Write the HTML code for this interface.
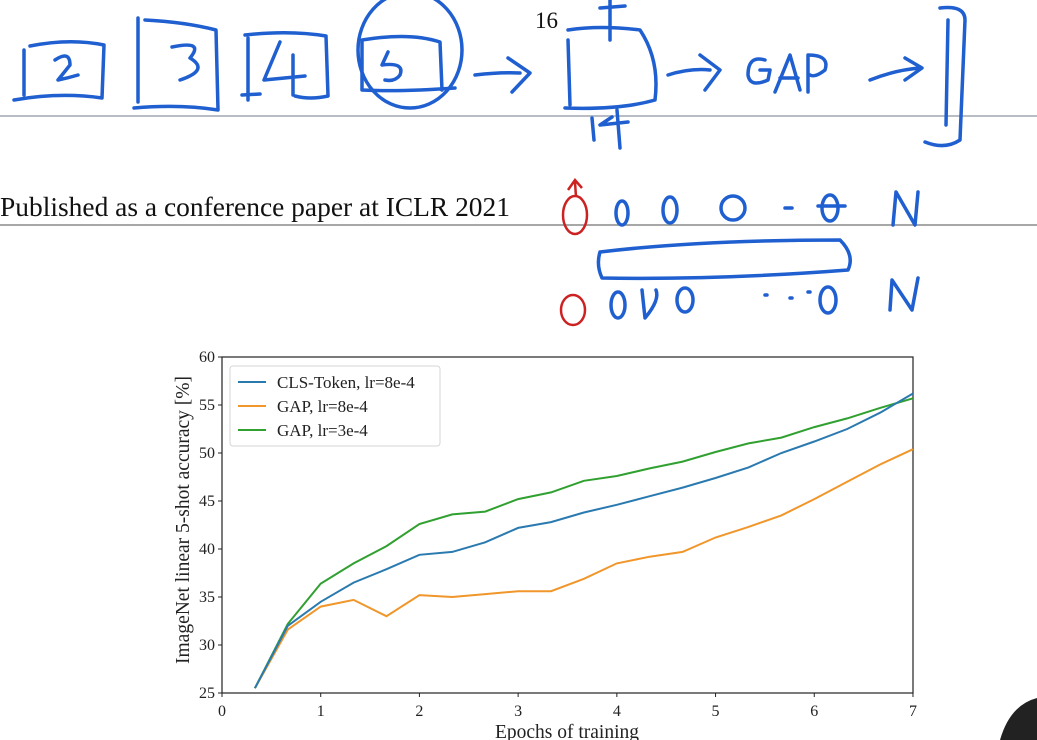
<!DOCTYPE html>
<html><head><meta charset="utf-8"><style>
html,body{margin:0;padding:0;background:#fff;}
body{width:1037px;height:740px;overflow:hidden;position:relative;font-family:"Liberation Serif",serif;}
svg{position:absolute;left:0;top:0;}
</style></head><body>
<svg width="1037" height="740" viewBox="0 0 1037 740" xmlns="http://www.w3.org/2000/svg">
<rect width="1037" height="740" fill="#fff"/>
<line x1="0" y1="116" x2="1037" y2="116" stroke="#b8bcc4" stroke-width="2"/>
<line x1="0" y1="225" x2="1037" y2="225" stroke="#8a8a8a" stroke-width="1.5"/>
<text x="0" y="216" font-size="27" textLength="510" lengthAdjust="spacingAndGlyphs" font-family="Liberation Serif,serif" fill="#111">Published as a conference paper at ICLR 2021</text>
<text x="535" y="28" font-size="23" font-family="Liberation Serif,serif" fill="#111">16</text>
<g fill="none" stroke="#1f5fd0" stroke-width="3.5" stroke-linecap="round" stroke-linejoin="round">
<path d="M24 50 L24 95 M14 100 Q60 92 102 98 L104 45 Q70 38 30 46"/>
<path d="M55 60 Q70 50 70 65 L58 80 Q68 78 78 75"/>
<path d="M138 18 L138 102 M134 108 Q180 104 218 110 L216 30 Q185 22 145 20"/>
<path d="M172 47 Q205 40 190 58 Q210 70 180 80"/>
<path d="M248 38 L248 100 M245 35 Q290 30 326 36 L328 96 Q310 100 295 96"/>
<path d="M280 42 L264 80 Q285 78 305 76 M293 55 L293 95 M242 95 L260 94"/>
<path d="M362 42 L362 90 Q400 92 455 88 M362 40 Q410 32 440 42 L442 90"/>
<path d="M388 52 L382 65 Q405 62 400 75 Q395 82 385 80"/>
<ellipse cx="410" cy="50" rx="52" ry="58"/>
<path d="M475 75 Q500 72 520 73 M508 58 L530 73 L512 92"/>
<path d="M568 30 Q600 25 640 30 Q660 60 655 100 Q620 110 565 108 M568 40 L570 105 M610 0 L610 40 M600 8 L625 6"/>
<path d="M592 118 L594 140 M612 117 L600 125 L628 122 M617 110 L620 148"/>
<path d="M668 75 Q690 68 710 70 M700 55 L720 70 L705 90"/>
<path d="M765 60 Q748 55 748 75 Q750 88 768 80 L770 70 L760 70 M775 92 L790 55 L800 90 M780 78 L798 78 M808 92 L808 55 Q830 55 825 70 Q815 78 810 75"/>
<path d="M870 80 Q895 70 920 68 M905 58 L922 68 L905 80"/>
<path d="M940 8 Q965 5 965 20 L960 140 Q945 150 925 142 M948 20 L946 125"/>
<ellipse cx="622" cy="213" rx="6" ry="12"/><ellipse cx="670" cy="210" rx="7" ry="13"/><ellipse cx="733" cy="208" rx="12" ry="12"/>
<path d="M785 208 L792 208"/><ellipse cx="830" cy="208" rx="8" ry="13"/><path d="M818 206 L845 206"/>
<path d="M893 225 L896 192 L915 225 L918 192"/>
<path d="M600 252 Q700 240 840 240 Q855 255 848 270 Q720 280 602 278 Q596 265 600 252"/>
<ellipse cx="618" cy="305" rx="7" ry="13"/><path d="M642 290 L645 318 Q660 300 656 290"/><ellipse cx="685" cy="300" rx="8" ry="12"/>
<ellipse cx="828" cy="300" rx="8" ry="13"/><path d="M765 295 L767 295 M790 298 L792 298 M808 292 L810 292"/>
<path d="M890 310 L892 280 L912 310 L918 278"/>
</g>
<g fill="none" stroke="#cc2222" stroke-width="2.5">
<ellipse cx="575" cy="215" rx="12" ry="19"/><path d="M576 197 L575 182 M568 190 L575 180 L582 188"/>
<ellipse cx="573" cy="310" rx="12" ry="15"/>
</g>
<path d="M1000 740 Q1010 705 1037 698 L1037 740 Z" fill="#222"/>
<rect x="222" y="357" width="691" height="336" fill="none" stroke="#222" stroke-width="1.2"/>
<g id="ticks" font-family="Liberation Serif,serif" font-size="16" fill="#222"></g>
<g id="lines" fill="none" stroke-width="2"></g>
<rect x="230" y="366" width="210" height="80" rx="3" fill="#fff" stroke="#d6d6d6"/>
<line x1="238" y1="382" x2="266" y2="382" stroke="#2a7ab0" stroke-width="2"/>
<line x1="238" y1="406" x2="266" y2="406" stroke="#f0962a" stroke-width="2"/>
<line x1="238" y1="430" x2="266" y2="430" stroke="#30a030" stroke-width="2"/>
<g font-family="Liberation Serif,serif" font-size="17" fill="#222">
<text x="277" y="388">CLS-Token, lr=8e-4</text>
<text x="277" y="412">GAP, lr=8e-4</text>
<text x="277" y="436">GAP, lr=3e-4</text>
</g>
<text x="567" y="738" text-anchor="middle" font-family="Liberation Serif,serif" font-size="19.5" fill="#222">Epochs of training</text>
<text transform="translate(189 520) rotate(-90)" text-anchor="middle" font-family="Liberation Serif,serif" font-size="19.5" fill="#222">ImageNet linear 5-shot accuracy [%]</text>
</svg>
<script>
var X=function(e){return 222+98.71*e},Y=function(v){return 693-9.6*(v-25)};
var t=document.getElementById('ticks'),s='';
for(var i=0;i<=7;i++){var x=X(i);s+='<line x1="'+x+'" y1="693" x2="'+x+'" y2="697" stroke="#222"/><text x="'+x+'" y="716" text-anchor="middle">'+i+'</text>';}
for(var v=25;v<=60;v+=5){var y=Y(v);s+='<line x1="218" y1="'+y+'" x2="222" y2="'+y+'" stroke="#222"/><text x="215" y="'+(y+5)+'" text-anchor="end">'+v+'</text>';}
t.innerHTML=s;
var B=[25.5,32,34.5,36.5,37.9,39.4,39.7,40.7,42.2,42.8,43.8,44.6,45.5,46.4,47.4,48.5,50,51.2,52.5,54.2,56.2];
var O=[25.5,31.6,34,34.7,33,35.2,35,35.3,35.6,35.6,36.9,38.5,39.2,39.7,41.2,42.3,43.5,45.2,47,48.8,50.4];
var G=[25.5,32.2,36.4,38.5,40.3,42.6,43.6,43.9,45.2,45.9,47.1,47.6,48.4,49.1,50.1,51,51.6,52.7,53.6,54.7,55.7];
function pl(d,c){return '<polyline stroke="'+c+'" points="'+d.map(function(v,i){return X((i+1)/3).toFixed(1)+','+Y(v).toFixed(1)}).join(' ')+'"/>';}
document.getElementById('lines').innerHTML=pl(O,'#f0962a')+pl(G,'#30a030')+pl(B,'#2a7ab0');
</script>
</body></html>
